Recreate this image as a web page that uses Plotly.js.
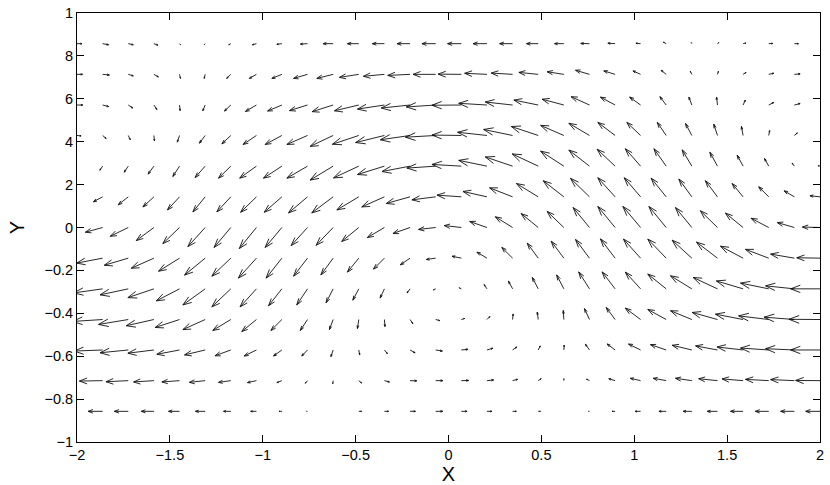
<!DOCTYPE html>
<html>
<head>
<meta charset="utf-8">
<script src="https://cdn.plot.ly/plotly-3.0.1.min.js"></script>
<style>
  html, body { margin: 0; padding: 0; background: #fff; }
  #graph { width: 830px; height: 485px; }
</style>
</head>
<body>
<div id="graph"></div>
<script>
// grid columns (x) and rows (y) of the quiver field
const gridX = [-2, -1.862, -1.724, -1.586, -1.448, -1.310, -1.172, -1.034, -0.897, -0.759,
  -0.621, -0.483, -0.345, -0.207, -0.069, 0.069, 0.207, 0.345, 0.483, 0.621,
  0.759, 0.897, 1.034, 1.172, 1.310, 1.448, 1.586, 1.724, 1.862, 2];
const gridY = [0.857, 0.714, 0.571, 0.429, 0.286, 0.143, 0, -0.143, -0.286, -0.429, -0.571, -0.714, -0.857];

// arrow components as drawn (data units), one row per gridY value; null = not visible
const U = [
  [0.027, 0.032, 0.027, 0.022, 0.005, -0.005, -0.011, -0.022, -0.027, -0.038, -0.054, -0.061, -0.065, -0.070, -0.074, -0.074, -0.075, -0.070, -0.063, -0.050, -0.047, -0.039, -0.025, -0.015, -0.003, 0.008, 0.015, 0.022, 0.022, null],
  [0.030, 0.036, 0.027, 0.024, 0.005, -0.005, -0.022, -0.038, -0.054, -0.075, -0.088, -0.104, -0.113, -0.120, -0.122, -0.125, -0.120, -0.115, -0.104, -0.090, -0.075, -0.061, -0.041, -0.027, -0.008, 0.005, 0.016, 0.027, 0.031, null],
  [0.031, 0.032, 0.024, 0.016, 0.003, -0.013, -0.034, -0.059, -0.077, -0.097, -0.113, -0.131, -0.145, -0.155, -0.158, -0.158, -0.152, -0.147, -0.131, -0.117, -0.099, -0.079, -0.059, -0.034, -0.016, -0.005, 0.012, 0.027, 0.031, null],
  [0.022, 0.019, 0.011, 0.003, -0.012, -0.031, -0.048, -0.072, -0.090, -0.111, -0.124, -0.142, -0.155, -0.160, -0.163, -0.158, -0.158, -0.156, -0.145, -0.125, -0.111, -0.093, -0.074, -0.048, -0.034, -0.020, -0.009, 0.005, 0.016, null],
  [null, -0.015, -0.022, -0.031, -0.036, -0.054, -0.066, -0.090, -0.099, -0.111, -0.124, -0.136, -0.145, -0.151, -0.155, -0.158, -0.152, -0.147, -0.140, -0.125, -0.111, -0.097, -0.082, -0.066, -0.052, -0.041, -0.032, -0.023, -0.012, -0.011],
  [null, -0.050, -0.054, -0.059, -0.065, -0.066, -0.075, -0.085, -0.095, -0.102, -0.115, -0.118, -0.122, -0.128, -0.128, -0.131, -0.129, -0.124, -0.117, -0.111, -0.102, -0.093, -0.088, -0.081, -0.070, -0.065, -0.059, -0.054, -0.055, -0.054],
  [null, -0.093, -0.097, -0.095, -0.090, -0.093, -0.090, -0.092, -0.090, -0.088, -0.092, -0.092, -0.092, -0.092, -0.092, -0.092, -0.093, -0.093, -0.092, -0.090, -0.088, -0.093, -0.095, -0.093, -0.088, -0.092, -0.095, -0.095, -0.092, -0.095],
  [null, -0.140, -0.129, -0.122, -0.113, -0.111, -0.102, -0.097, -0.085, -0.075, -0.066, -0.061, -0.059, -0.052, -0.050, -0.050, -0.054, -0.058, -0.059, -0.068, -0.075, -0.079, -0.092, -0.099, -0.106, -0.113, -0.122, -0.125, -0.128, -0.125],
  [null, -0.156, -0.152, -0.140, -0.125, -0.120, -0.102, -0.088, -0.072, -0.058, -0.038, -0.032, -0.023, -0.016, -0.012, -0.011, -0.015, -0.022, -0.032, -0.039, -0.058, -0.070, -0.082, -0.099, -0.115, -0.131, -0.144, -0.152, -0.155, -0.158],
  [null, -0.162, -0.160, -0.149, -0.131, -0.120, -0.097, -0.079, -0.059, -0.039, -0.020, -0.007, 0.003, 0.015, 0.022, 0.018, 0.016, 0.003, -0.005, -0.003, -0.027, -0.048, -0.082, -0.099, -0.115, -0.136, -0.149, -0.162, -0.163, -0.167],
  [null, -0.153, -0.152, -0.140, -0.122, -0.111, -0.085, -0.066, -0.045, -0.031, -0.012, 0.005, 0.016, 0.027, 0.036, 0.036, 0.032, 0.023, 0.011, 0.002, -0.022, -0.043, -0.065, -0.085, -0.106, -0.118, -0.140, -0.152, -0.155, -0.158],
  [null, -0.125, -0.120, -0.109, -0.095, -0.085, -0.066, -0.048, -0.027, -0.012, -0.002, 0.015, 0.027, 0.036, 0.039, 0.039, 0.036, 0.027, 0.016, 0, -0.016, -0.034, -0.055, -0.070, -0.088, -0.101, -0.113, -0.125, -0.128, -0.131],
  [null, -0.078, -0.075, -0.068, -0.059, -0.052, -0.039, -0.031, -0.015, -0.005, 0, 0.015, 0.022, 0.029, 0.038, 0.031, 0.027, 0.020, 0.012, 0, -0.005, -0.016, -0.029, -0.039, -0.047, -0.055, -0.068, -0.072, -0.074, -0.077]
];
const V = [
  [0, -0.005, -0.005, -0.007, -0.005, -0.005, -0.005, -0.005, -0.003, -0.002, 0, 0, 0, 0, 0, 0, 0, 0, 0, 0, 0.001, 0.002, 0.002, 0.007, 0.005, 0.005, 0.003, 0.001, 0, null],
  [0, -0.003, -0.007, -0.012, -0.019, -0.019, -0.019, -0.019, -0.019, -0.019, -0.019, -0.014, -0.009, -0.005, 0, 0.001, 0.005, 0.006, 0.009, 0.012, 0.019, 0.016, 0.016, 0.019, 0.014, 0.014, 0.009, 0.005, 0.002, null],
  [0, -0.007, -0.014, -0.021, -0.026, -0.027, -0.028, -0.030, -0.028, -0.026, -0.031, -0.027, -0.019, -0.014, -0.009, -0.001, 0.008, 0.014, 0.023, 0.027, 0.039, 0.037, 0.037, 0.039, 0.037, 0.037, 0.023, 0.012, 0.007, null],
  [-0.002, -0.014, -0.020, -0.025, -0.031, -0.036, -0.039, -0.042, -0.042, -0.042, -0.051, -0.041, -0.033, -0.020, -0.008, 0.002, 0.015, 0.028, 0.042, 0.047, 0.057, 0.061, 0.061, 0.061, 0.056, 0.053, 0.042, 0.023, 0.012, null],
  [null, -0.019, -0.028, -0.037, -0.048, -0.053, -0.056, -0.056, -0.056, -0.056, -0.065, -0.055, -0.039, -0.025, -0.009, 0.008, 0.027, 0.043, 0.057, 0.070, 0.075, 0.079, 0.081, 0.081, 0.076, 0.065, 0.051, 0.036, 0.014, 0.002],
  [null, -0.023, -0.037, -0.047, -0.061, -0.070, -0.070, -0.072, -0.072, -0.075, -0.075, -0.061, -0.047, -0.031, -0.014, 0.008, 0.025, 0.042, 0.062, 0.075, 0.086, 0.089, 0.089, 0.087, 0.083, 0.075, 0.062, 0.047, 0.028, 0.005],
  [null, -0.022, -0.041, -0.061, -0.075, -0.089, -0.093, -0.098, -0.093, -0.084, -0.083, -0.065, -0.047, -0.028, -0.009, 0.009, 0.028, 0.050, 0.065, 0.075, 0.093, 0.098, 0.098, 0.098, 0.093, 0.078, 0.067, 0.043, 0.023, 0.002],
  [null, -0.023, -0.033, -0.047, -0.061, -0.079, -0.084, -0.093, -0.093, -0.084, -0.078, -0.065, -0.051, -0.031, -0.006, 0.009, 0.028, 0.050, 0.070, 0.079, 0.087, 0.090, 0.089, 0.089, 0.084, 0.075, 0.056, 0.041, 0.019, 0.002],
  [null, -0.019, -0.028, -0.041, -0.056, -0.075, -0.084, -0.084, -0.079, -0.075, -0.065, -0.053, -0.043, -0.019, -0.005, 0.005, 0.020, 0.036, 0.053, 0.065, 0.079, 0.079, 0.078, 0.069, 0.061, 0.053, 0.037, 0.027, 0.014, 0],
  [null, -0.009, -0.023, -0.029, -0.037, -0.047, -0.051, -0.056, -0.051, -0.051, -0.047, -0.042, -0.033, -0.019, -0.005, 0.005, 0.014, 0.026, 0.035, 0.042, 0.051, 0.056, 0.053, 0.047, 0.041, 0.033, 0.025, 0.017, 0.011, 0.001],
  [null, -0.005, -0.013, -0.015, -0.020, -0.023, -0.027, -0.028, -0.028, -0.028, -0.031, -0.023, -0.017, -0.013, -0.005, 0.003, 0.008, 0.014, 0.019, 0.023, 0.027, 0.028, 0.028, 0.025, 0.022, 0.019, 0.014, 0.009, 0.006, 0],
  [null, -0.002, -0.005, -0.006, -0.006, -0.008, -0.008, -0.009, -0.009, -0.012, -0.014, -0.011, -0.006, -0.001, 0, 0.001, 0.003, 0.006, 0.009, 0.009, 0.007, 0.009, 0.011, 0.011, 0.011, 0.009, 0.008, 0.006, 0.005, 0.001],
  [null, 0, 0, 0, 0, 0, 0, 0, 0, 0, 0, 0, 0, 0, 0, 0, 0, 0, 0, 0, 0, 0, 0, 0, 0, 0, 0, 0, 0, 0]
];

const xTickVals = [-2, -1.5, -1, -0.5, 0, 0.5, 1, 1.5, 2];
const xTickText = ["\u22122", "\u22121.5", "\u22121", "\u22120.5", "0", "0.5", "1", "1.5", "2"];
const yTickVals = [-1, -0.8, -0.6, -0.4, -0.2, 0, 0.2, 0.4, 0.6, 0.8, 1];
const yTickText = ["\u22121", "\u22120.8", "\u22120.6", "\u22120.4", "\u22120.2", "0", "2", "4", "6", "8", "1"];

// build arrows (shaft + open head, like matlab quiver)
function buildArrows() {
  let px = [];
  let py = [];
  const alpha = 0.33;
  const beta = 0.33;
  for (let i = 0; i < gridY.length; i++) {
    for (let j = 0; j < gridX.length; j++) {
      let u = U[i][j];
      let v = V[i][j];
      if (u === null || v === null) continue;
      if (u === 0 && v === 0) continue;
      let x = gridX[j];
      let y = gridY[i];
      px.push(x, x + u, null);
      py.push(y, y + v, null);
      px.push(x + u - alpha * (u + beta * v), x + u, x + u - alpha * (u - beta * v), null);
      py.push(y + v - alpha * (v - beta * u), y + v, y + v - alpha * (v + beta * u), null);
    }
  }
  return { px, py };
}

const arrows = buildArrows();
const font = "Liberation Sans, Arial, Helvetica, sans-serif";

let data = [
  {
    x: arrows.px,
    y: arrows.py,
    type: "scatter",
    mode: "lines",
    line: { color: "#111", width: 0.9 },
    hoverinfo: "skip",
    connectgaps: false,
  },
];

let layout = {
  width: 830,
  height: 485,
  paper_bgcolor: "#fff",
  plot_bgcolor: "#fff",
  showlegend: false,
  margin: { l: 77, r: 10, t: 13, b: 43 },
  font: { family: font, size: 14, color: "#000" },
  xaxis: {
    range: [-2, 2],
    tickvals: xTickVals,
    ticktext: xTickText,
    ticks: "inside",
    ticklen: 7,
    tickcolor: "#000",
    showline: true,
    linecolor: "#000",
    linewidth: 1,
    mirror: "ticks",
    showgrid: false,
    zeroline: false,
    tickfont: { family: font, size: 14.5, color: "#000" },
    title: { text: "X", font: { family: font, size: 20, color: "#000" }, standoff: 0 },
  },
  yaxis: {
    range: [-1, 1],
    tickvals: yTickVals,
    ticktext: yTickText,
    ticks: "inside",
    ticklen: 7,
    tickcolor: "#000",
    showline: true,
    linecolor: "#000",
    linewidth: 1,
    mirror: "ticks",
    showgrid: false,
    zeroline: false,
    tickfont: { family: font, size: 14.5, color: "#000" },
    title: { text: "Y", font: { family: font, size: 20, color: "#000" }, standoff: 14 },
  },
};

Plotly.newPlot("graph", data, layout, { staticPlot: true, displayModeBar: false });
</script>
</body>
</html>
